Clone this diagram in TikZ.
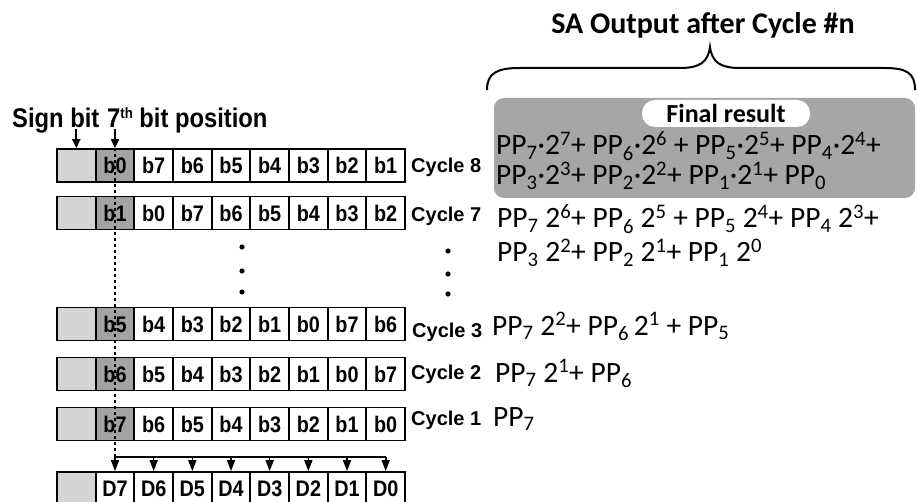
\documentclass[tikz,border=0pt]{standalone}
\usepackage{fontspec}
\setmainfont{Carlito}
\newfontfamily\arialfont{Liberation Sans}
\newfontfamily\narrowfont[FakeStretch=0.88]{Liberation Sans}
\usetikzlibrary{arrows.meta,calc}

\definecolor{signgray}{RGB}{212,212,212}
\definecolor{msbgray}{RGB}{163,163,163}
\definecolor{boxgray}{RGB}{166,166,166}

% partial-product terms
\newcommand\pp[1]{PP\textsubscript{#1}}
\newcommand\tw[1]{2\textsuperscript{#1}}

% one shift-register row: name, y of centre, label of the MSB cell, seven remaining labels
\newcommand\bitrow[4]{%
  \node[cell,fill=signgray] (#1-0) at ({57+38.67*0.5},#2) {};
  \node[cell,fill=msbgray] (#1-1) at ({57+38.67*1.5},#2) {#3};
  \foreach \lab [count=\i from 2] in {#4}
    \node[cell] (#1-\i) at ({57+38.67*(\i+0.5)},#2) {\lab};
}

\begin{document}
\begin{tikzpicture}[x=1pt,y=-1pt,
  cell/.style={draw,line width=1.8pt,fill=white,minimum width=38.67pt,
    minimum height=33pt,inner sep=0pt,
    font=\narrowfont\bfseries\fontsize{22.5}{24}\selectfont},
  cyclab/.style={anchor=base west,inner sep=0pt,
    font=\arialfont\bfseries\fontsize{20}{22}\selectfont},
  toplab/.style={anchor=base west,inner sep=0pt,
    font=\narrowfont\bfseries\fontsize{27}{29}\selectfont},
  eq/.style={anchor=base west,inner sep=0pt,font=\fontsize{29.5}{31}\selectfont},
  pointer/.style={line width=2pt,-{Triangle[width=8pt,length=9pt]}},
  busline/.style={line width=1.6pt},
  busarrow/.style={line width=1.6pt,-{Triangle[width=8pt,length=11pt]}},
  dotline/.style={line width=2pt,dash pattern=on 3pt off 3pt},
  dotmark/.style={fill=black}]

\useasboundingbox (0,0) rectangle (917,502);
\clip (0,0) rectangle (917,502);

% registers
\bitrow{r8}{165.5}{b0}{b7,b6,b5,b4,b3,b2,b1}
\bitrow{r7}{213}{b1}{b0,b7,b6,b5,b4,b3,b2}
\bitrow{r3}{324}{b5}{b4,b3,b2,b1,b0,b7,b6}
\bitrow{r2}{374}{b6}{b5,b4,b3,b2,b1,b0,b7}
\bitrow{r1}{424}{b7}{b6,b5,b4,b3,b2,b1,b0}

% output register
\node[cell,fill=signgray] (d-0) at ({57+38.67*0.5},488.5) {};
\foreach \lab [count=\i from 1] in {D7,D6,D5,D4,D3,D2,D1,D0}
  \node[cell] (d-\i) at ({57+38.67*(\i+0.5)},488.5) {\lab};

% cycle labels
\node[cyclab] (l8) at (411,173) {Cycle 8};
\node[cyclab] (l7) at (411,222) {Cycle 7};
\node[cyclab] (l3) at (412,337) {Cycle 3};
\node[cyclab] (l2) at (411,379) {Cycle 2};
\node[cyclab] (l1) at (411,425) {Cycle 1};

% top labels and their pointers
\node[toplab] (signlab) at (12,128) {Sign bit};
\node[toplab] (poslab) at (107,128) {7\raisebox{9pt}{\fontsize{15}{15}\selectfont th} bit position};
\coordinate (signtail) at ([yshift=19pt]r8-0.north);
\coordinate (postail) at ([yshift=19pt]r8-1.north);
\draw[pointer] (signtail) -- (r8-0.north);
\draw[pointer] (postail) -- (r8-1.north);

% dotted path of the 7th bit down to the distribution bus
\coordinate (busL) at (r8-1.north |- 0,457);
\coordinate (busR) at (d-8.north |- 0,457);
\draw[dotline] (r8-1.north) -- (busL);
\draw[busline] (busL) -- (busR);
\foreach \i in {1,...,8}
  \draw[busarrow] (d-\i.north |- busL) -- (d-\i.north);

% vertical ellipses
\foreach \yy in {247,271,292} \fill[dotmark] (242,\yy) circle (2.6pt);
\foreach \yy in {251,274,294} \fill[dotmark] (448,\yy) circle (2.6pt);

% heading and brace
\node[font=\bfseries\fontsize{30}{32}\selectfont] (title) at (703,25) {SA Output after Cycle \#n};
\draw[line width=2pt] (487,90) .. controls (487,73) and (497,68) .. (520,68)
  -- (680,68) .. controls (700,68) and (708,62) .. (710,47)
  .. controls (712,62) and (720,68) .. (740,68)
  -- (884,68) .. controls (907,68) and (915,73) .. (915,90);

% final result panel
\node[fill=boxgray,rounded corners=10pt,minimum width=421pt,minimum height=100pt,
  inner sep=0pt] (finalbox) at (704.5,148) {};
\node[fill=white,rounded corners=13pt,minimum width=168pt,minimum height=27pt,
  inner sep=0pt,font=\bfseries\fontsize{26}{28}\selectfont] (fres) at (726,113.5) {Final result};
\node[eq] (f1) at (496,155) {\pp{7}·\tw{7}+ \pp{6}·\tw{6} + \pp{5}·\tw{5}+ \pp{4}·\tw{4}+};
\node[eq] (f2) at (496,185) {\pp{3}·\tw{3}+ \pp{2}·\tw{2}+ \pp{1}·\tw{1}+ \pp{0}};

% intermediate outputs
\node[eq] (e7a) at (497,228) {\pp{7} \tw{6}+ \pp{6} \tw{5} + \pp{5} \tw{4}+ \pp{4} \tw{3}+};
\node[eq] (e7b) at (497,262) {\pp{3} \tw{2}+ \pp{2} \tw{1}+ \pp{1} \tw{0}};
\node[eq] (e3) at (492,335) {\pp{7} \tw{2}+ \pp{6}\,\tw{1} + \pp{5}};
\node[eq] (e2) at (495,382) {\pp{7} \tw{1}+ \pp{6}};
\node[eq] (e1) at (493,426) {\pp{7}};

\end{tikzpicture}
\end{document}
